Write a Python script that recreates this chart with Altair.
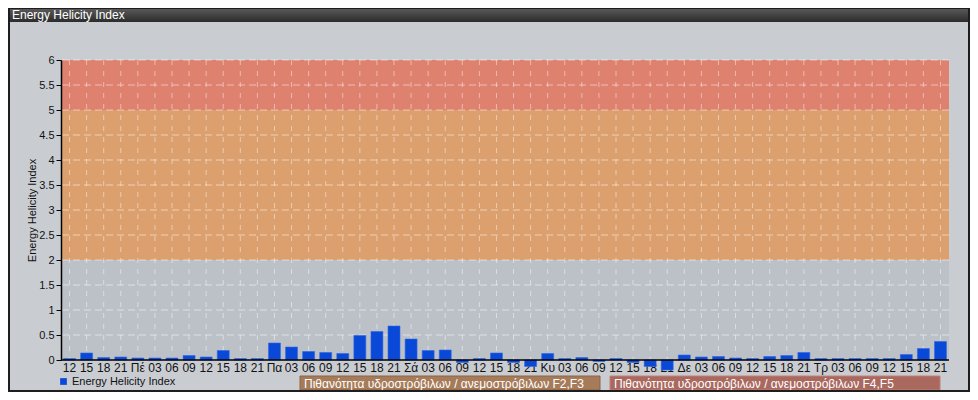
import json
import altair as alt
import pandas as pd

# ---- data ----
labels = ["12", "15", "18", "21",
          "Πέ", "03", "06", "09", "12", "15", "18", "21",
          "Πα", "03", "06", "09", "12", "15", "18", "21",
          "Σά", "03", "06", "09", "12", "15", "18", "21",
          "Κυ", "03", "06", "09", "12", "15", "18", "21",
          "Δε", "03", "06", "09", "12", "15", "18", "21",
          "Τρ", "03", "06", "09", "12", "15", "18", "21"]

values = [0.03, 0.14, 0.05, 0.06,
          0.04, 0.04, 0.04, 0.09, 0.06, 0.19, 0.03, 0.03,
          0.34, 0.26, 0.17, 0.15, 0.13, 0.49, 0.57, 0.68,
          0.42, 0.19, 0.20, -0.05, 0.03, 0.14, -0.05, -0.13,
          0.13, 0.03, 0.05, -0.03, 0.03, -0.05, -0.13, -0.20,
          0.10, 0.06, 0.07, 0.04, 0.03, 0.07, 0.09, 0.15,
          0.03, 0.03, 0.03, 0.03, 0.03, 0.11, 0.23, 0.37]

series_name = "Energy Helicity Index"

band_lo = [0, 2, 5]
band_hi = [2, 5, 6]
band_colors = ["#bcc1c8", "#dca06e", "#de816f"]

y_ticks = [0, 0.5, 1, 1.5, 2, 2.5, 3, 3.5, 4, 4.5, 5, 5.5, 6]
grid_lines = [0.5, 1, 1.5, 2, 2.5, 3, 3.5, 4, 4.5, 5, 5.5, 6]

box_labels = ["Πιθανότητα υδροστρόβιλων / ανεμοστρόβιλων F2,F3",
              "Πιθανότητα υδροστρόβιλων / ανεμοστρόβιλων F4,F5"]
box_colors = ["#a67b59", "#a9695f"]

# ---- tables ----
df = pd.DataFrame({"idx": list(range(len(values))), "value": values,
                   "series": series_name})
bands = pd.DataFrame({"lo": band_lo, "hi": band_hi, "c": band_colors})
hgrid = pd.DataFrame({"v": grid_lines})
zero = pd.DataFrame({"v": [0]})
one = alt.Data(values=[{}])

FONT = "Liberation Sans"
W, H = 888, 300

label_arr = json.dumps(labels, ensure_ascii=False)
x_enc = alt.X("idx:O",
              scale=alt.Scale(paddingInner=0.3),
              axis=alt.Axis(title=None, labelExpr=f"{label_arr}[datum.value]",
                            labelAngle=0, domain=False, ticks=False, grid=False,
                            labelFontSize=12, labelFont=FONT, labelColor="#111",
                            labelPadding=2, zindex=0))

y_scale = alt.Scale(domain=[0, 6], nice=False, zero=False)
y_axis = alt.Axis(title="Energy Helicity Index", values=y_ticks, format="~g", grid=False,
                  domainColor="#000", domainWidth=1.5, tickColor="#000", tickSize=5,
                  labelFontSize=11, labelFont=FONT, labelColor="#111", labelPadding=2,
                  titleFontSize=11, titleFont=FONT, titleFontWeight="normal",
                  titleColor="#111", titlePadding=1, zindex=1)

band_layer = alt.Chart(bands).mark_rect().encode(
    y=alt.Y("lo:Q", scale=y_scale, axis=y_axis),
    y2="hi:Q",
    color=alt.Color("c:N", scale=None),
)

hgrid_layer = alt.Chart(hgrid).mark_rule(
    color="white", opacity=0.5, strokeDash=[7, 4], strokeWidth=1
).encode(y=alt.Y("v:Q", scale=y_scale, axis=y_axis))

vgrid_layer = alt.Chart(df).mark_rule(
    color="white", opacity=0.45, strokeDash=[5, 6], strokeWidth=1
).encode(x=x_enc)

bars = alt.Chart(df).mark_bar(stroke="#2e66e6", strokeWidth=0.6).encode(
    x=x_enc,
    y=alt.Y("value:Q", scale=y_scale, axis=y_axis),
    color=alt.Color("series:N", scale=alt.Scale(range=["#0a49d8"]),
                    legend=alt.Legend(title=None, orient="none", legendX=-3, legendY=316,
                                      symbolType="square", symbolSize=45,
                                      symbolStrokeWidth=0, labelFontSize=11,
                                      labelFont=FONT, labelColor="#111",
                                      padding=0, labelOffset=3)),
)

zero_layer = alt.Chart(zero).mark_rule(color="#000", strokeWidth=1.5).encode(
    y=alt.Y("v:Q", scale=y_scale, axis=y_axis))

# title bar and frame (decoration)
title_bar = alt.Chart(one).mark_rect(
    color=alt.Gradient(gradient="linear",
                       stops=[alt.GradientStop(color="#5c5c5c", offset=0),
                              alt.GradientStop(color="#2b2b2b", offset=1)],
                       x1=0, x2=0, y1=0, y2=1)
).encode(x=alt.value(-53), x2=alt.value(909), y=alt.value(-52), y2=alt.value(-38))

title_text = alt.Chart(one).mark_text(
    align="left", baseline="middle", color="white", fontSize=12, font=FONT
).encode(x=alt.value(-49), y=alt.value(-45), text=alt.value(series_name))

frame = alt.Chart(one).mark_rect(
    fill=None, stroke="#1e1e1e", strokeWidth=2
).encode(x=alt.value(-52), x2=alt.value(908), y=alt.value(-52), y2=alt.value(331))

box1 = alt.Chart(one).mark_rect(color=box_colors[0], stroke="#8c6446", strokeWidth=1).encode(
    x=alt.value(239), x2=alt.value(539), y=alt.value(316), y2=alt.value(330))
box1_text = alt.Chart(one).mark_text(
    align="left", baseline="middle", color="white", fontSize=12, font=FONT
).encode(x=alt.value(243), y=alt.value(323.5), text=alt.value(box_labels[0]))

box2 = alt.Chart(one).mark_rect(color=box_colors[1], stroke="#c47e74", strokeWidth=1).encode(
    x=alt.value(549), x2=alt.value(879), y=alt.value(316), y2=alt.value(330))
box2_text = alt.Chart(one).mark_text(
    align="left", baseline="middle", color="white", fontSize=12, font=FONT
).encode(x=alt.value(553), y=alt.value(323.5), text=alt.value(box_labels[1]))

chart = alt.layer(
    band_layer, hgrid_layer, vgrid_layer, bars, zero_layer,
    title_bar, title_text, box1, box1_text, box2, box2_text, frame
).resolve_scale(color="independent").properties(
    width=W, height=H,
    autosize=alt.AutoSizeParams(type="none"),
    padding={"left": 53, "top": 52, "right": 21, "bottom": 32},
    background="#c9cdd2",
).configure_view(stroke=None)

chart.save("out.html", embed_options={"renderer": "svg", "actions": False})
